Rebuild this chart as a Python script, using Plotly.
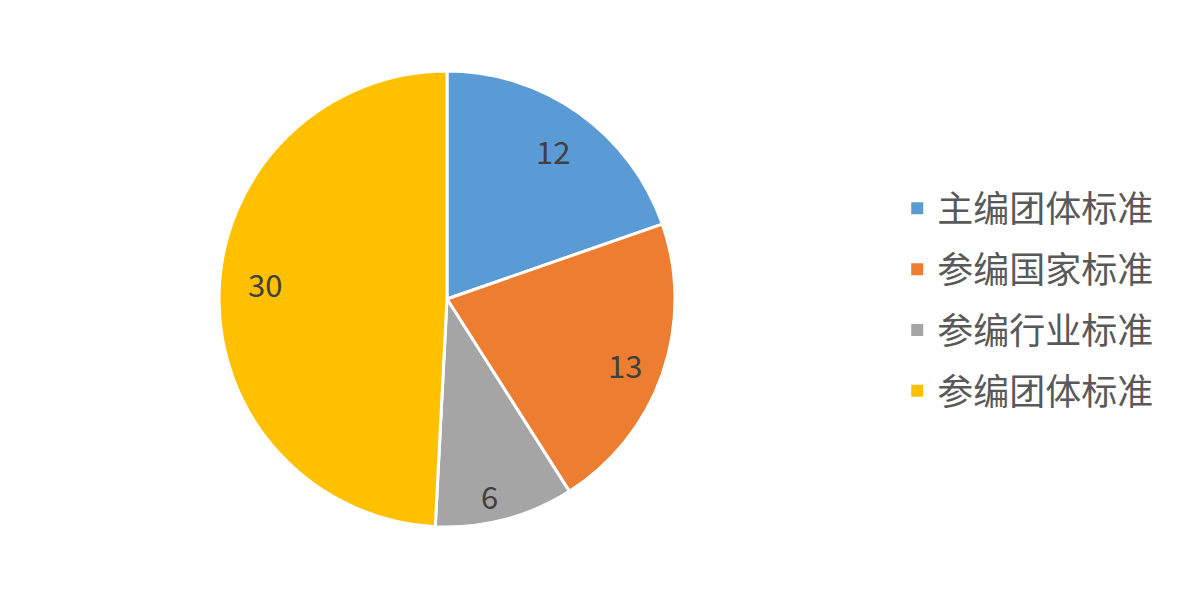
import math

import plotly.graph_objects as go

categories = ["主编团体标准", "参编国家标准", "参编行业标准", "参编团体标准"]
counts = [12, 13, 6, 30]
colors = ["#5B9BD5", "#ED7D31", "#A5A5A5", "#FFC000"]

W, H = 1196, 602
# pie placement inside the figure (pixels): centre and radius
CX, CY, R = 439, 291, 228
LABEL_R = [0.80, 0.83, 0.88, 0.80]  # how far out each value label sits
LABEL_TURN = [0, 1, 2.5, 3.5]  # small extra turn (degrees) off the mid angle

fig = go.Figure()

fig.add_trace(
    go.Pie(
        labels=categories,
        values=counts,
        sort=False,
        direction="clockwise",
        rotation=0,
        marker=dict(colors=colors, line=dict(color="white", width=3)),
        textinfo="none",
        showlegend=False,
        domain=dict(
            x=[(CX - R) / W, (CX + R) / W],
            y=[1 - (CY + R) / H, 1 - (CY - R) / H],
        ),
        hoverinfo="label+value",
    )
)

# value labels, placed along each slice's mid angle
total = sum(counts)
cum = 0
for v, k, turn in zip(counts, LABEL_R, LABEL_TURN):
    mid = (cum + v / 2) / total * 2 * math.pi + math.radians(turn)
    cum += v
    lx = CX + k * R * math.sin(mid)
    ly = CY - k * R * math.cos(mid)
    fig.add_annotation(
        x=lx / W,
        y=1 - ly / H,
        xref="paper",
        yref="paper",
        xanchor="center",
        yanchor="middle",
        text=str(v),
        showarrow=False,
        font=dict(family="Noto Sans CJK SC", size=31, color="#404040"),
    )

# legend entries (one group each so the rows can be spaced apart)
for name, c in zip(categories, colors):
    fig.add_trace(
        go.Scatter(
            x=[None],
            y=[None],
            mode="markers",
            name=name,
            legendgroup=name,
            marker=dict(symbol="square", size=10, color=c),
        )
    )

fig.update_layout(
    width=W,
    height=H,
    margin=dict(l=0, r=0, t=0, b=0),
    paper_bgcolor="white",
    plot_bgcolor="white",
    xaxis=dict(visible=False),
    yaxis=dict(visible=False),
    font=dict(family="Noto Sans CJK SC", color="#595959"),
    legend=dict(
        x=0.7435,
        y=0.515,
        xanchor="left",
        yanchor="middle",
        font=dict(size=36, color="#595959"),
        itemsizing="constant",
        tracegroupgap=11,
    ),
)

fig.write_html("out.html")
